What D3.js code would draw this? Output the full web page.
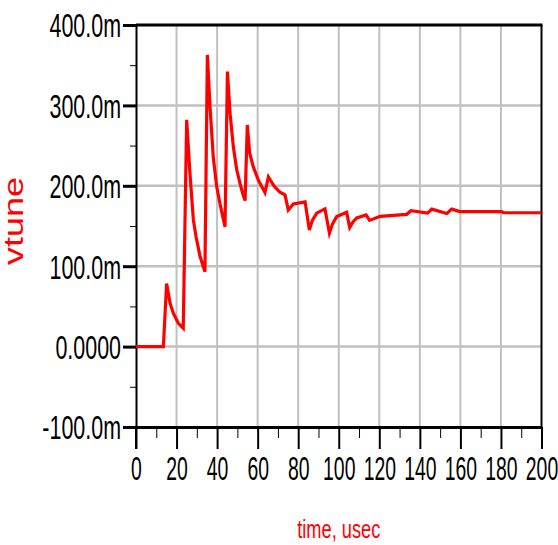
<!DOCTYPE html>
<html>
<head>
<meta charset="utf-8">
<script src="https://cdn.jsdelivr.net/npm/d3@7"></script>
<style>
  body { margin: 0; background: #fff; }
  text { font-family: "Liberation Sans", Arial, sans-serif; }
</style>
</head>
<body>
<div id="chart"></div>
<script>
// time in usec, vtune in milli-units
var timeUs = [0, 13.5, 15.1, 16.8, 18.4, 20.9, 23.3,
  25, 26.6, 28.3, 29.6, 31.6, 34,
  35.2, 36.5, 38.1, 39.8, 41.4, 42.8, 43.9,
  45.1, 46.4, 48, 49.7, 51.3, 52.6, 53.8,
  54.9, 56.1, 57.8, 60.3, 62, 63.6,
  65.3, 68, 71, 73.5, 75.1, 77.6, 83.4,
  85.5, 87, 89.1, 93.2, 95.4, 97, 99, 103.9, 105.4, 107, 108.9, 113.5, 115.2, 120.4,
  133.5, 135.6, 143.8, 145.9, 153.3, 155.7, 159.8, 180.4, 181.2, 200];
var vtune = [0, 0, 78.5, 54, 41.5, 29, 23,
  282, 215.7, 157.6, 137, 112, 93,
  362.8, 298.5, 236, 199, 178, 161.7, 149,
  342, 290, 248.8, 219.8, 203, 190.8, 181.6,
  275.7, 240.5, 223.9, 207.3, 199, 191.6,
  211, 200, 192, 188.7, 170, 177.5, 180,
  145, 157, 166, 171.3, 141, 153, 161.7, 167, 148, 155, 160, 163.8, 157, 162,
  164.5, 169, 166, 171, 165.5, 171, 168, 168, 166.5, 166.5];

var xTicks = [0, 20, 40, 60, 80, 100, 120, 140, 160, 180, 200];
var xMinor = [10, 30, 50, 70, 90, 110, 130, 150, 170, 190];
var yTicks = [-100, 0, 100, 200, 300, 400];
var yTickLabels = ["-100.0m", "0.0000", "100.0m", "200.0m", "300.0m", "400.0m"];
var yMinor = [-50, 50, 150, 250, 350];

var width = 558, height = 545;
var plotL = 136, plotR = 541.5, plotT = 25, plotB = 427;

var svg = d3.select('#chart').append('svg')
  .attr('width', width)
  .attr('height', height);

var x = d3.scaleLinear().domain([0, 200]).range([plotL, plotR]);
var y = d3.scaleLinear().domain([-100, 400]).range([plotB, plotT]);

// grid
svg.append('g').selectAll('line')
  .data(xTicks.slice(1, -1))
  .enter().append('line')
  .attr('x1', function(d) { return x(d); })
  .attr('x2', function(d) { return x(d); })
  .attr('y1', plotT).attr('y2', plotB)
  .style('stroke', '#c0c0c0').style('stroke-width', 2);

svg.append('g').selectAll('line')
  .data(yTicks.slice(1, -1))
  .enter().append('line')
  .attr('y1', function(d) { return y(d); })
  .attr('y2', function(d) { return y(d); })
  .attr('x1', plotL).attr('x2', plotR)
  .style('stroke', '#c0c0c0').style('stroke-width', 2.5);

// top and right border
svg.append('line').attr('x1', plotL).attr('x2', plotR + 1).attr('y1', plotT).attr('y2', plotT)
  .style('stroke', '#000').style('stroke-width', 3);
svg.append('line').attr('x1', plotR).attr('x2', plotR).attr('y1', plotT).attr('y2', plotB)
  .style('stroke', '#000').style('stroke-width', 2);

// x axis
var xAxis = svg.append('g')
  .attr('transform', 'translate(0,' + plotB + ')')
  .call(d3.axisBottom(x).tickValues(xTicks).tickSize(22).tickSizeOuter(0));
svg.append('g')
  .attr('transform', 'translate(0,' + plotB + ')')
  .call(d3.axisBottom(x).tickValues(xMinor).tickSize(11).tickSizeOuter(0).tickFormat(''))
  .select('.domain').remove();

xAxis.select('.domain').style('stroke-width', 3);
xAxis.selectAll('.tick line').style('stroke-width', 2);
xAxis.selectAll('text')
  .attr('y', 53).attr('dy', 0)
  .attr('transform', 'scale(0.57,1)')
  .style('font-size', '34px')
  .style('fill', '#000');

// y axis
var yAxis = svg.append('g')
  .attr('transform', 'translate(' + plotL + ',0)')
  .call(d3.axisLeft(y).tickValues(yTicks).tickSize(13).tickSizeOuter(0)
    .tickFormat(function(d, i) { return yTickLabels[i]; }));
svg.append('g')
  .attr('transform', 'translate(' + plotL + ',0)')
  .call(d3.axisLeft(y).tickValues(yMinor).tickSize(6).tickSizeOuter(0).tickFormat(''))
  .select('.domain').remove();

yAxis.select('.domain').style('stroke-width', 2);
yAxis.selectAll('.tick line').style('stroke-width', 3);
yAxis.selectAll('text')
  .attr('x', -15 / 0.65).attr('dy', '0.36em')
  .attr('transform', 'scale(0.65,1)')
  .style('font-size', '33px')
  .style('fill', '#000');

// left axis extends down to the 0 tick
svg.append('line').attr('x1', plotL).attr('x2', plotL).attr('y1', plotB).attr('y2', plotB + 22)
  .style('stroke', '#000').style('stroke-width', 2);

// trace
var line = d3.line()
  .x(function(d, i) { return x(timeUs[i]); })
  .y(function(d) { return y(d); });

svg.append('path')
  .datum(vtune)
  .attr('d', line)
  .style('fill', 'none')
  .style('stroke', '#ff0000')
  .style('stroke-width', 3.2)
  .style('stroke-linejoin', 'miter');

// titles
svg.append('text')
  .attr('x', (plotL + plotR) / 2).attr('y', 538)
  .attr('text-anchor', 'middle')
  .attr('textLength', 83).attr('lengthAdjust', 'spacingAndGlyphs')
  .style('font-size', '25px').style('fill', '#ff0000')
  .text('time, usec');

svg.append('text')
  .attr('transform', 'translate(23,221) rotate(-90)')
  .attr('text-anchor', 'middle')
  .attr('textLength', 88).attr('lengthAdjust', 'spacingAndGlyphs')
  .style('font-size', '27px').style('fill', '#ff0000')
  .text('vtune');
</script>
</body>
</html>
